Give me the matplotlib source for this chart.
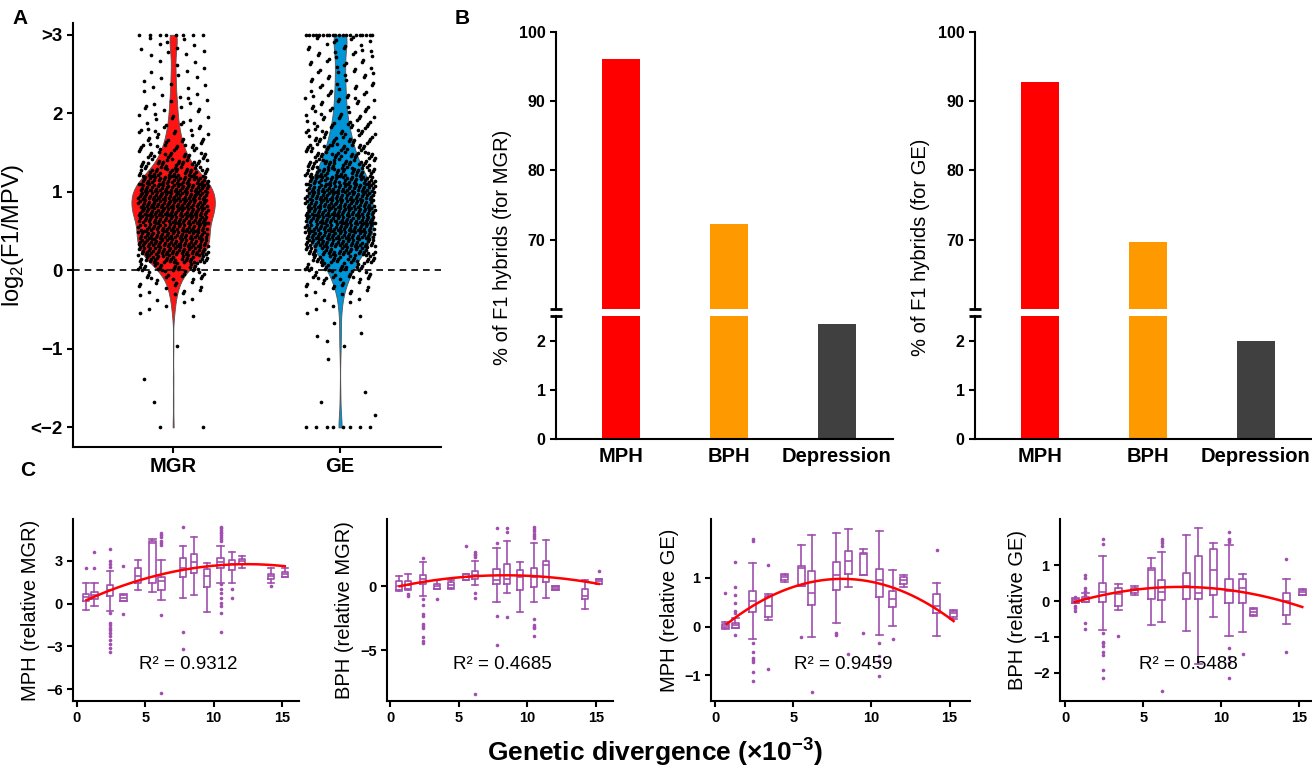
import numpy as np
import matplotlib
matplotlib.use("Agg")
import matplotlib.pyplot as plt

plt.rcParams['font.family'] = ['Liberation Sans', 'DejaVu Sans']
plt.rcParams['mathtext.fontset'] = 'custom'
plt.rcParams['mathtext.rm'] = 'Liberation Sans'
plt.rcParams['mathtext.bf'] = 'Liberation Sans:bold'
plt.rcParams['axes.linewidth'] = 1.5

# ---------- data: panel A (counts per 0.1 bin from -2.0 to 3.0) ----------
mgr_counts = [0, 0, 0, 1, 0, 0, 1, 0, 0, 0,
              1, 0, 0, 0, 2, 3, 4, 6, 9, 14,
              25, 40, 50, 52, 50, 48, 53, 58, 60, 60,
              55, 46, 36, 27, 21, 14, 12, 10, 8, 7,
              6, 5, 4, 4, 4, 3, 3, 4, 4, 3]
mgr_low, mgr_high = 2, 8          # points clipped at <-2 and >3
ge_counts = [0, 1, 0, 1, 1, 0, 0, 0, 1, 0,
             2, 1, 1, 1, 2, 3, 4, 7, 10, 15,
             23, 30, 40, 48, 50, 52, 52, 52, 51, 50,
             48, 44, 38, 32, 26, 22, 19, 16, 14, 12,
             10, 9, 9, 8, 8, 8, 8, 8, 7, 7]
ge_low, ge_high = 8, 20

# ---------- data: panel B ----------
b_cats = ["MPH", "BPH", "Depression"]
b_mgr = [96.1, 72.3, 2.33]
b_ge = [92.7, 69.7, 2.0]
b_colors = ["#ff0000", "#ff9900", "#404040"]

# ---------- data: panel C ----------
pos = [0.65, 1.28, 2.4, 3.4, 4.47, 5.52, 6.18, 7.76, 8.53, 9.48, 10.5, 11.37, 12.05, 14.18, 15.23]

c1_med = [0.49, 0.6, 0.96, 0.42, 1.94, 4.29, 1.6, 2.53, 2.93, 1.97, 2.9, 2.76, 3.0, 1.94, 2.08]
c1_q1 = [0.21, 0.33, 0.54, 0.21, 1.43, 1.43, 0.96, 1.9, 2.18, 1.15, 2.48, 2.37, 2.79, 1.76, 1.85]
c1_q3 = [0.68, 0.84, 1.31, 0.61, 2.53, 4.4, 1.9, 3.19, 3.49, 2.41, 3.19, 3.07, 3.14, 2.06, 2.22]
c1_lo = [-0.45, -0.16, -0.49, 0.21, 0.96, 0.8, 0.26, 0.37, 0.59, -0.56, 1.48, 1.43, 2.48, 1.43, 1.85]
c1_hi = [1.43, 1.43, 2.3, 0.68, 3.04, 4.52, 3.04, 4.07, 4.66, 2.83, 4.07, 3.65, 3.37, 2.48, 2.53]
c1_fl = [[2.53], [2.53, 3.63],
         [3.84, 3.0, 2.76, 2.6, -0.63, -1.33, -1.5, -1.69, -1.85, -2.04, -2.25, -2.55, -2.83, -3.14, -3.37],
         [2.65, -0.75], [], [], [4.94, 4.82, 4.7, 4.4, 4.25, 4.1, -0.8, -6.3], [5.36, -1.97, -3.18], [], [],
         [5.41, 5.29, 5.18, 5.06, 4.94, 4.82, 4.7, 4.54, 4.4, 1.38, 1.01, 0.73, 0.38, 0.03, -0.16, -0.63, -1.97],
         [1.03, 0.37], [], [1.24], []]
c1_cx = [0.7, 2.4, 5.5, 8.5, 11.4, 15.2]
c1_cy = [0.28, 0.89, 1.9, 2.48, 2.79, 2.62]

c2_med = [0.05, 0.13, 0.55, 0.0, 0.13, 0.74, 0.87, 0.47, 0.6, 0.74, 0.74, 1.71, -0.13, -0.76, 0.39]
c2_q1 = [-0.26, -0.24, 0.16, -0.21, -0.1, 0.47, 0.55, 0.21, 0.18, -0.32, -0.05, 0.32, -0.32, -1.0, 0.18]
c2_q3 = [0.39, 0.42, 0.89, 0.18, 0.34, 0.95, 1.21, 1.37, 1.76, 1.32, 1.47, 2.03, 0.05, -0.24, 0.58]
c2_lo = [-0.4, -0.26, -0.74, -0.24, -0.18, 0.47, 0.1, -1.24, -0.53, -2.0, -1.24, -0.9, -0.32, -1.76, 0.18]
c2_hi = [0.82, 0.97, 1.89, 0.47, 0.47, 0.97, 2.03, 3.05, 3.53, 1.95, 3.37, 3.68, 0.05, 0.53, 0.58]
c2_fl = [[], [-0.6, -0.76],
         [2.26, -1.03, -1.45, -2.16, -2.29, -2.95, -3.13, -3.26, -4.0, -4.3, -4.45],
         [-1.0], [], [3.18], [2.71, 2.58, 2.45, 2.3, -0.5, -0.9, -8.42], [4.55, 3.37, -2.29, -4.58],
         [4.55, 4.24, -2.42], [], [4.66, 4.5, 4.34, 4.15, 3.99, 3.82, -2.6, -3.0, -3.2, -3.3, -3.92],
         [], [], [], [1.18]]
c2_cx = [0.7, 3, 5.5, 8, 10.5, 13, 15.2]
c2_cy = [0.0, 0.47, 0.74, 0.87, 0.82, 0.53, 0.21]

c3_med = [0.01, 0.03, 0.53, 0.42, 1.01, 1.2, 0.68, 1.06, 1.35, 1.5, 0.95, 0.57, 0.96, 0.42, 0.27]
c3_q1 = [-0.03, -0.02, 0.3, 0.19, 0.95, 0.84, 0.45, 0.76, 1.07, 1.05, 0.61, 0.41, 0.88, 0.27, 0.2]
c3_q3 = [0.05, 0.08, 0.73, 0.62, 1.05, 1.25, 1.14, 1.32, 1.55, 1.52, 1.18, 0.74, 1.01, 0.66, 0.32]
c3_lo = [-0.05, -0.04, -0.26, 0.14, 0.92, 0.84, -0.22, 0.08, 0.81, 1.05, -0.18, 0.01, 0.81, -0.19, 0.15]
c3_hi = [0.1, 0.17, 1.3, 0.66, 1.09, 1.67, 1.88, 1.93, 2.01, 1.6, 1.97, 1.16, 1.05, 0.89, 0.34]
c3_fl = [[0.68], [1.33, 0.81, 0.64, 0.49, 0.32, 0.27, -0.18],
         [1.79, 1.76, -0.34, -0.52, -0.64, -0.68, -0.73, -0.93, -1.12],
         [1.26, -0.87], [], [-0.22], [-1.34], [-0.13, -0.18], [-0.57], [-0.14],
         [-0.34, -0.6, -0.7, -1.01], [-0.26], [], [1.57], []]
c3_cx = [0.75, 2.5, 5, 7, 8.3, 10, 12, 14, 15.25]
c3_cy = [0.03, 0.46, 0.82, 0.97, 1.0, 0.91, 0.68, 0.37, 0.15]

c4_med = [0.0, 0.05, 0.26, 0.19, 0.3, 0.87, 0.25, 0.41, 0.21, 0.87, 0.28, 0.37, -0.31, 0.0, 0.24]
c4_q1 = [-0.05, -0.02, -0.04, -0.14, 0.23, 0.05, 0.03, 0.05, 0.05, 0.16, -0.06, -0.05, -0.38, -0.38, 0.16]
c4_q3 = [0.05, 0.12, 0.5, 0.37, 0.36, 0.93, 0.58, 0.78, 1.26, 1.44, 0.6, 0.62, -0.23, 0.21, 0.3]
c4_lo = [-0.06, -0.02, -0.81, -0.25, 0.18, -0.66, -0.58, -0.82, -1.75, -0.45, -0.96, -0.86, -0.41, -0.64, 0.16]
c4_hi = [0.07, 0.21, 1.26, 0.47, 0.41, 1.19, 1.37, 1.84, 2.02, 1.61, 1.56, 0.76, -0.2, 0.61, 0.32]
c4_fl = [[0.1, 0.07, -0.14, -0.2, -0.29], [0.73, 0.64, 0.37, 0.27, 0.16, -0.61, -0.77],
         [1.72, 1.58, -0.9, -1.13, -1.18, -1.25, -1.41, -1.5, -1.91, -2.13],
         [-0.98], [], [], [1.72, 1.67, 1.62, 1.52, -2.51], [], [], [],
         [1.92, 1.73, 1.69, 1.65, -1.32, -1.57, -1.73, -2.15], [-1.48], [], [1.17, -1.41], []]
c4_cx = [0.6, 2.5, 5, 7.5, 10, 12.5, 15.2]
c4_cy = [-0.06, 0.21, 0.35, 0.39, 0.3, 0.16, -0.16]

purple = "#a04fae"

fig = plt.figure(figsize=(13.12, 7.67), dpi=100)


def expand(counts, n_low, n_high):
    # y values spread inside each bin, x jitter spread as a 2D R2 sequence
    ys = [np.full(n_low, -2.0)]
    xs = [((np.arange(n_low) + 0.5) * 0.618034) % 1]
    for i, n in enumerate(counts):
        if n:
            k = np.arange(n) + 0.5
            ys.append(-2.0 + i * 0.1 + ((k * 0.5698403 + i * 0.31) % 1) * 0.1)
            xs.append((k * 0.7548777 + i * 0.618034) % 1)
    ys.append(np.full(n_high, 3.0))
    xs.append(((np.arange(n_high) + 0.5) * 0.618034) % 1)
    return np.concatenate(ys), np.concatenate(xs)


mgr, mgr_j = expand(mgr_counts, mgr_low, mgr_high)
ge, ge_j = expand(ge_counts, ge_low, ge_high)

# ----- Panel A -----
axA = fig.add_axes([73/1312, 1-447/767, 368/1312, 424/767])
parts = axA.violinplot([mgr, ge], positions=[0, 1], widths=[0.5, 0.4],
                       showextrema=False, bw_method=0.17)
for body, col in zip(parts['bodies'], ["#ff1414", "#0095d6"]):
    body.set_facecolor(col)
    body.set_edgecolor("#555555")
    body.set_linewidth(0.6)
    body.set_alpha(1)
axA.axhline(0, color='k', lw=1.2, ls=(0, (4, 3)), zorder=3)
for k, (vals, jj) in enumerate([(mgr, mgr_j), (ge, ge_j)]):
    axA.scatter(k + (jj - 0.5) * 0.42, vals, s=7, color='k', zorder=4, linewidths=0)
axA.set_xlim(-0.6, 1.605)
axA.set_ylim(-2.25, 3.15)
axA.set_yticks([3, 2, 1, 0, -1, -2])
axA.set_yticklabels([">3", "2", "1", "0", "\u22121", "<\u22122"])
axA.set_xticks([0, 1])
axA.set_xticklabels(["MGR", "GE"])
axA.set_ylabel("log$_2$(F1/MPV)", fontsize=17, labelpad=3)
for s in ["top", "right"]:
    axA.spines[s].set_visible(False)
axA.tick_params(labelsize=13.5, width=1.5, length=4)
for lab in axA.get_xticklabels() + axA.get_yticklabels():
    lab.set_fontweight('bold')
axA.tick_params(axis='x', labelsize=14.5)


# ----- Panel B -----
def bar_panel(left_px, vals, label):
    l = left_px / 1312
    w = 337 / 1312
    ax_t = fig.add_axes([l, 1-308.7/767, w, (308.7-32)/767])
    ax_b = fig.add_axes([l, 1-439/767, w, (439-316)/767])
    for ax in (ax_t, ax_b):
        ax.bar(range(3), vals, width=0.35, color=b_colors)
        ax.set_xlim(-0.6, 2.52)
        ax.spines["top"].set_visible(False)
        ax.spines["right"].set_visible(False)
        ax.tick_params(labelsize=11.5, width=1.5, length=4)
    ax_t.set_ylim(60, 100)
    ax_t.set_yticks([70, 80, 90, 100])
    ax_t.spines["bottom"].set_visible(False)
    ax_t.set_xticks([])
    ax_b.set_ylim(0, 2.5)
    ax_b.set_yticks([0, 1, 2])
    ax_b.set_xticks(range(3))
    ax_b.set_xticklabels(b_cats)
    ax_b.tick_params(axis='x', length=0, labelsize=14.5, pad=6)
    for ax, yy in ((ax_t, 0), (ax_b, 1)):
        ax.plot([0], [yy], marker='_', markersize=8, mew=2, color='k',
                transform=ax.transAxes, clip_on=False)
        for lab in ax.get_xticklabels() + ax.get_yticklabels():
            lab.set_fontweight('bold')
    fig.text((left_px - 54) / 1312, 1 - 247/767, label, rotation=90,
             ha='center', va='center', fontsize=14.5)


bar_panel(556, b_mgr, "% of F1 hybrids (for MGR)")
bar_panel(975, b_ge, "% of F1 hybrids (for GE)")


# ----- Panel C -----
def box_panel(rect, med, q1, q3, lo, hi, fl, cx, cy, xlim, ylim, yticks, ylabel, r2):
    ax = fig.add_axes(rect)
    stats = [dict(med=m, q1=a, q3=b, whislo=c, whishi=d, fliers=f)
             for m, a, b, c, d, f in zip(med, q1, q3, lo, hi, fl)]
    lp = dict(color=purple, lw=1.2)
    ax.bxp(stats, positions=pos, widths=0.45, capwidths=0.45,
           boxprops=lp, whiskerprops=lp, capprops=lp, medianprops=lp,
           flierprops=dict(marker='o', markersize=2.6, markerfacecolor=purple,
                           markeredgecolor='none'),
           manage_ticks=False)
    coef = np.polyfit(cx, cy, 2)
    xs = np.linspace(cx[0], cx[-1], 200)
    ax.plot(xs, np.polyval(coef, xs), color='#ff0000', lw=1.8, zorder=5)
    ax.set_xlim(*xlim)
    ax.set_ylim(*ylim)
    ax.set_xticks([0, 5, 10, 15])
    ax.set_yticks(yticks)
    ax.set_yticklabels([str(t).replace('-', '\u2212') for t in yticks])
    ax.spines["top"].set_visible(False)
    ax.spines["right"].set_visible(False)
    ax.tick_params(labelsize=10.5, width=1.5, length=4)
    for lab in ax.get_xticklabels() + ax.get_yticklabels():
        lab.set_fontweight('bold')
    ax.set_ylabel(ylabel, fontsize=14.5, labelpad=4)
    ax.text(0.51, 0.2, "R\u00b2 = " + r2, transform=ax.transAxes,
            ha='center', va='center', fontsize=13.5)
    return ax


yb, hc = 1 - 701/767, 182/767
box_panel([73/1312, yb, 226/1312, hc], c1_med, c1_q1, c1_q3, c1_lo, c1_hi, c1_fl,
          c1_cx, c1_cy, (-0.29, 16.24), (-6.84, 5.95), [3, 0, -3, -6],
          "MPH (relative MGR)", "0.9312")
box_panel([387/1312, yb, 226/1312, hc], c2_med, c2_q1, c2_q3, c2_lo, c2_hi, c2_fl,
          c2_cx, c2_cy, (-0.22, 16.24), (-9.0, 5.29), [0, -5],
          "BPH (relative MGR)", "0.4685")
box_panel([711/1312, yb, 259/1312, hc], c3_med, c3_q1, c3_q3, c3_lo, c3_hi, c3_fl,
          c3_cx, c3_cy, (-0.26, 16.3), (-1.53, 2.21), [1, 0, -1],
          "MPH (relative GE)", "0.9459")
box_panel([1060/1312, yb, 251/1312, hc], c4_med, c4_q1, c4_q3, c4_lo, c4_hi, c4_fl,
          c4_cx, c4_cy, (-0.34, 15.76), (-2.78, 2.28), [1, 0, -1, -2],
          "BPH (relative GE)", "0.5488")

fig.text(655/1312, 1 - 752/767, r"Genetic divergence (×10$^{\mathbf{-3}}$)",
         ha='center', va='center', fontsize=19, fontweight='bold')

fig.text(12/1312, 1 - 18/767, "A", fontsize=15, fontweight='bold', va='center')
fig.text(455/1312, 1 - 18/767, "B", fontsize=15, fontweight='bold', va='center')
fig.text(20/1312, 1 - 470/767, "C", fontsize=15, fontweight='bold', va='center')

fig.savefig("out.png", dpi=100)
